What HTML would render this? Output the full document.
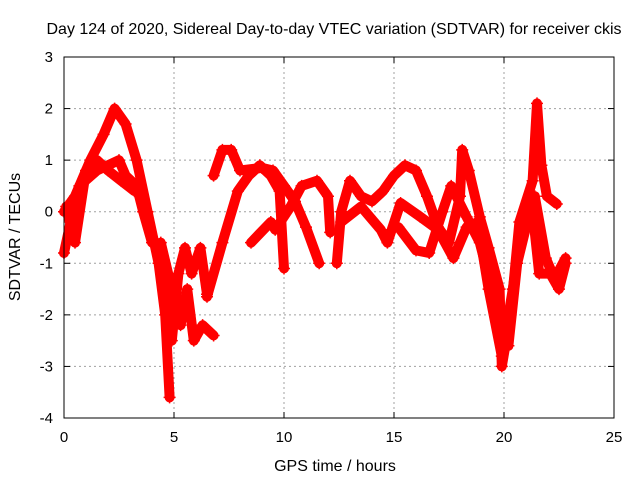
<!DOCTYPE html>
<html><head><meta charset="utf-8"><style>
body{margin:0;background:#fff}
svg{display:block;font-family:"Liberation Sans",sans-serif}
</style></head><body>
<svg width="640" height="480" id="chart">
<rect width="640" height="480" fill="#fff"/>
<text x="334" y="34" text-anchor="middle" font-size="16">Day 124 of 2020, Sidereal Day-to-day VTEC variation (SDTVAR) for receiver ckis</text>
<text x="335" y="471" text-anchor="middle" font-size="16">GPS time / hours</text>
<text transform="translate(20,237) rotate(-90)" text-anchor="middle" font-size="16">SDTVAR / TECUs</text>
<g id="grid"></g>
<g id="ticks"></g>
<g id="marks"></g>
<rect x="64" y="57" width="550" height="361" fill="none" stroke="#000" stroke-width="1"/>
</svg>
<script>
const xTicks=[0,5,10,15,20,25];
const yTicks=[-4,-3,-2,-1,0,1,2,3];
const traceA=[[0,0],[0.5,0.3],[1.2,1],[1.8,1.5],[2.3,2],[2.8,1.7],[3.3,1],[3.8,0],[4.3,-1],[4.6,-2],[4.8,-3.6]];
const traceB=[[0,-0.8],[0.3,-0.2],[0.7,0.5],[1.5,0.8],[2.5,1.0],[2.8,0.7],[3.3,0.5],[3.6,0],[4.0,-0.6]];
const traceC=[[0.1,0.1],[0.5,-0.6],[1,0.8],[1.5,1.0],[2,0.8],[2.6,0.6],[3.2,0.4]];
const traceD=[[4.4,-0.6],[4.9,-1.5],[5.3,-2.2],[5.6,-1.5],[5.9,-2.5],[6.3,-2.2],[6.8,-2.4]];
const traceD2=[[4.5,-1],[4.9,-2.5],[5.2,-1.2],[5.5,-0.7],[5.8,-1.2],[6.2,-0.7],[6.5,-1.6]];
const traceE=[[6.8,0.7],[7.2,1.2],[7.6,1.2],[8,0.8],[9,0.85],[9.5,0.8],[10,0.5],[10.5,0.2],[11,-0.3],[11.6,-1.0]];
const traceF=[[6.5,-1.65],[7.2,-0.6],[7.9,0.4],[8.4,0.7],[8.9,0.9],[9.4,0.7],[9.8,0.4],[10,-1.1]];
const traceG=[[8.5,-0.6],[9.4,-0.2],[9.6,-0.35],[10.3,0.1],[10.8,0.5],[11.5,0.6],[12,0.3],[12.1,-0.4]];
const traceH=[[12.4,-1],[12.6,0],[13,0.6],[13.5,0.3],[14,0.2],[14.5,0.4],[15,0.7],[15.5,0.9],[16,0.8],[16.5,0.3],[17,-0.3],[17.5,-0.6],[18,0.3],[18.1,1.2],[18.4,0.8],[18.9,-0.1],[19.3,-0.7],[19.8,-1.5],[19.9,-3.0],[20.3,-2.0],[20.7,-0.2],[21.3,0.6],[21.5,2.1],[21.7,0.9],[21.95,0.3],[22.4,0.15]];
const traceI=[[12.6,-0.2],[13.5,0.1],[14.4,-0.35],[14.7,-0.6],[15.3,0.17],[16.2,-0.1],[17,-0.35],[17.7,-0.9],[18.3,-0.3],[18.8,-0.2],[19.3,-1.5],[19.9,-2.8],[20.4,-1.5],[20.9,0],[21.3,0],[21.6,-1.2],[22.1,-1.2],[22.5,-1.5],[22.8,-1]];
const traceJ=[[15.2,-0.3],[16,-0.75],[16.6,-0.8],[17.2,0.0],[17.6,0.5],[18.3,-0.1],[18.9,-0.6],[19.5,-1.6],[20.2,-2.6],[20.6,-1.0],[21.0,-0.3],[21.4,0.3],[21.9,-0.9],[22.3,-1.3],[22.8,-0.9]];
const series=[traceA,traceB,traceC,traceD,traceD2,traceE,traceF,traceG,traceH,traceI,traceJ];
const NS="http://www.w3.org/2000/svg";
const X0=64,X1=614,Y0=418,Y1=57;
function sx(t){return X0+(t-0)/25*(X1-X0);}
function sy(v){return Y0-(v+4)/7*(Y0-Y1);}
const grid=document.getElementById('grid'),ticks=document.getElementById('ticks'),marks=document.getElementById('marks');
function mk(tag,attrs,parent){const e=document.createElementNS(NS,tag);for(const k in attrs)e.setAttribute(k,attrs[k]);parent.appendChild(e);return e;}
xTicks.forEach(t=>{
 const x=sx(t);
 if(t>0&&t<25){const g=mk('line',{x1:x,x2:x,y1:Y1,y2:Y0,stroke:'#a0a0a0','stroke-dasharray':'2,3'},grid);
 
 }
 mk('line',{x1:x,x2:x,y1:Y0,y2:Y0-6,stroke:'#000'},ticks);
 mk('line',{x1:x,x2:x,y1:Y1,y2:Y1+6,stroke:'#000'},ticks);
 const l=mk('text',{x:x,y:Y0+24,'text-anchor':'middle','font-size':'15'},ticks);l.textContent=t;
 
 
});
yTicks.forEach(v=>{
 const y=sy(v);
 if(v>-4&&v<3){const g=mk('line',{x1:X0,x2:X1,y1:y,y2:y,stroke:'#a0a0a0','stroke-dasharray':'2,3'},grid);
 
 }
 mk('line',{x1:X0,x2:X0+6,y1:y,y2:y,stroke:'#000'},ticks);
 mk('line',{x1:X1,x2:X1-6,y1:y,y2:y,stroke:'#000'},ticks);
 const l=mk('text',{x:X0-11,y:y+5,'text-anchor':'end','font-size':'15'},ticks);l.textContent=v;
 
 
});
series.forEach((s,i)=>{
 const p=mk('polyline',{points:s.map(d=>sx(d[0])+','+sy(d[1])).join(' '),fill:'none',stroke:'#ff0000','stroke-width':'10','stroke-linejoin':'round','stroke-linecap':'round'},marks);
 
 
 s.forEach(d=>{
  const x=sx(d[0]),y=sy(d[1]);
  const m=mk('path',{d:`M${x-6},${y}H${x+6}M${x},${y-6}V${y+6}`,stroke:'#ff0000','stroke-width':'1.5'},marks);
  
  
 });
});
</script>
</body></html>
